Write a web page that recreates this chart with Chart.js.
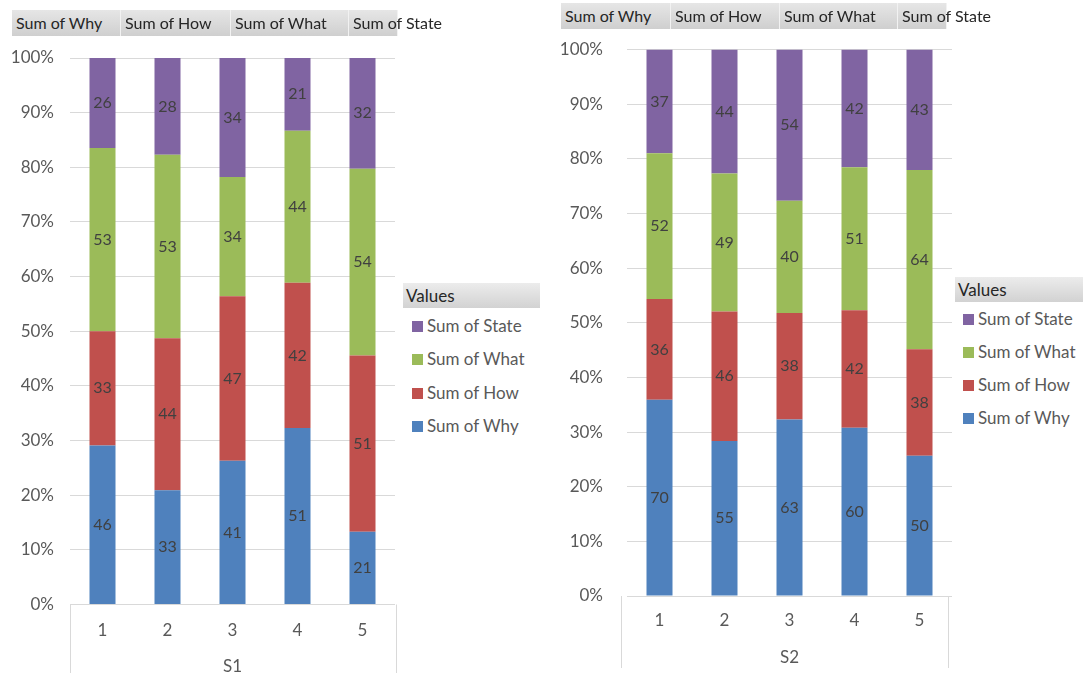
<!DOCTYPE html>
<html>
<head>
<meta charset="utf-8">
<script src="https://cdn.jsdelivr.net/npm/chart.js@4"></script>
<style>
  html, body { margin: 0; padding: 0; background: #fff; overflow: hidden; }
  body { width: 1083px; height: 673px; position: relative; font-family: Lato, "Open Sans", sans-serif; }
  .box { position: absolute; }
  .hdr { position: absolute; height: 26px; line-height: 26px; font-size: 16px; color: #262626;
         background: linear-gradient(#e6e6e6, #cfcfcf); border-right: 1px solid #f2f2f2;
         box-sizing: border-box; padding-left: 4px; white-space: nowrap; overflow: visible; }
  .legTitle { position: absolute; height: 25px; line-height: 25px; font-size: 17px; color: #262626;
              background: linear-gradient(#ececec, #d2d2d2); padding-left: 3px; box-sizing: border-box; }
  .legItem { position: absolute; font-size: 17px; color: #595959; white-space: nowrap; line-height: 20px; }
  .legItem span { display: inline-block; width: 11px; height: 11px; margin-right: 4px; vertical-align: 0px; }
</style>
</head>
<body>
<canvas id="c1" class="box" style="left:0;top:0;width:400px;height:690px"></canvas>
<canvas id="c2" class="box" style="left:540px;top:0;width:420px;height:690px"></canvas>
<div id="ui"></div>

<script>
// categories and series (raw sums)
const categories = ['1', '2', '3', '4', '5'];
const seriesNames = ['Sum of Why', 'Sum of How', 'Sum of What', 'Sum of State'];
const seriesColors = ['#4f81bd', '#c0504d', '#9bbb59', '#8064a2'];

const s1Why   = [46, 33, 41, 51, 21];
const s1How   = [33, 44, 47, 42, 51];
const s1What  = [53, 53, 34, 44, 54];
const s1State = [26, 28, 34, 21, 32];

const s2Why   = [70, 55, 63, 60, 50];
const s2How   = [36, 46, 38, 42, 38];
const s2What  = [52, 49, 40, 51, 64];
const s2State = [37, 44, 54, 42, 43];

const yTicks = [0, 10, 20, 30, 40, 50, 60, 70, 80, 90, 100];

// turn raw sums into 100% stacked shares
function toPercent(series) {
  return series.map(function(s) {
    return s.map(function(v, i) {
      let tot = 0;
      series.forEach(function(o) { tot += o[i]; });
      return v / tot * 100;
    });
  });
}

// draws the raw value in the middle of every segment
const valueLabels = {
  id: 'valueLabels',
  afterDatasetsDraw(chart) {
    const ctx = chart.ctx;
    ctx.save();
    ctx.font = '16px Lato, sans-serif';
    ctx.fillStyle = '#404040';
    ctx.textAlign = 'center';
    ctx.textBaseline = 'middle';
    chart.data.datasets.forEach(function(ds, di) {
      chart.getDatasetMeta(di).data.forEach(function(bar, i) {
        ctx.fillText(ds.raw[i], bar.x, (bar.y + bar.base) / 2);
      });
    });
    ctx.restore();
  }
};

// the open box under the category axis
const axisBox = {
  id: 'axisBox',
  afterDraw(chart, args, opts) {
    const ctx = chart.ctx, a = chart.chartArea;
    ctx.save();
    ctx.strokeStyle = '#d9d9d9';
    ctx.lineWidth = 1;
    ctx.beginPath();
    ctx.moveTo(a.left + opts.dl + 0.5, a.bottom);
    ctx.lineTo(a.left + opts.dl + 0.5, opts.end);
    ctx.moveTo(a.right + opts.dr - 0.5, a.bottom);
    ctx.lineTo(a.right + opts.dr - 0.5, opts.end);
    ctx.stroke();
    ctx.restore();
  }
};

function makeChart(id, title, raw, g) {
  const pct = toPercent(raw);
  return new Chart(document.getElementById(id), {
    type: 'bar',
    data: {
      labels: categories,
      datasets: raw.map(function(r, k) {
        return {
          label: seriesNames[k],
          data: pct[k],
          raw: r,
          backgroundColor: seriesColors[k],
          borderWidth: 0,
          categoryPercentage: 1,
          barPercentage: 0.4
        };
      })
    },
    options: {
      responsive: false,
      animation: false,
      layout: { padding: { top: g.top, right: g.right, left: 0, bottom: 0 } },
      plugins: {
        legend: { display: false },
        tooltip: { enabled: false },
        axisBox: { dl: g.dl, dr: g.dr, end: g.boxEnd }
      },
      scales: {
        x: {
          stacked: true,
          grid: { display: false, drawTicks: false, tickLength: 0 },
          border: { display: false },
          ticks: { color: '#595959', font: { family: 'Lato', size: 17 }, padding: g.xPad },
          title: { display: true, text: title, color: '#595959', font: { family: 'Lato', size: 17 },
                   padding: { top: 0, bottom: g.titlePad } },
          afterFit(scale) { scale.height = g.xHeight; }
        },
        y: {
          stacked: true,
          min: 0, max: 100,
          afterBuildTicks(scale) { scale.ticks = yTicks.map(function(v) { return { value: v }; }); },
          grid: { color: '#d9d9d9', drawTicks: false, tickLength: 0 },
          border: { display: false },
          ticks: { color: '#595959', font: { family: 'Lato', size: 17 }, padding: g.yPad,
                   callback: function(v) { return v + '%'; } },
          afterFit(scale) { scale.width = g.yWidth; }
        }
      }
    },
    plugins: [valueLabels, axisBox]
  });
}

makeChart('c1', 'S1', [s1Why, s1How, s1What, s1State],
  { top: 58, right: 5, yWidth: 70, yPad: 16, xHeight: 85.5, xPad: 16, titlePad: 13, dl: 0, dr: 2, boxEnd: 690 });
makeChart('c2', 'S2', [s2Why, s2How, s2What, s2State],
  { top: 49.5, right: 8, yWidth: 87, yPad: 24, xHeight: 94, xPad: 14, titlePad: 22, dl: -6, dr: -3, boxEnd: 668 });

// field buttons above each chart and the "Values" legend
function addUi(hx, hy, edges, lx, ly, lw, sqx, itemYs) {
  const ui = document.getElementById('ui');
  seriesNames.forEach(function(n, k) {
    const d = document.createElement('div');
    d.className = 'hdr';
    d.style.left = edges[k] + 'px';
    d.style.top = hy + 'px';
    d.style.width = (edges[k + 1] - edges[k]) + 'px';
    d.textContent = n;
    ui.appendChild(d);
  });
  const t = document.createElement('div');
  t.className = 'legTitle';
  t.style.left = lx + 'px'; t.style.top = ly + 'px'; t.style.width = lw + 'px';
  t.textContent = 'Values';
  ui.appendChild(t);
  // legend lists the series top-down in stack order
  for (let k = seriesNames.length - 1, j = 0; k >= 0; k--, j++) {
    const it = document.createElement('div');
    it.className = 'legItem';
    it.style.left = sqx + 'px';
    it.style.top = (itemYs[j] - 10) + 'px';
    it.innerHTML = '<span style="background:' + seriesColors[k] + '"></span>' + seriesNames[k];
    ui.appendChild(it);
  }
}

addUi(0, 10, [12, 121, 231, 349, 398], 403, 283, 137, 412, [326, 359, 393, 426]);
addUi(0, 3, [561, 671, 780, 898, 947], 955, 277, 128, 963, [319, 352, 385, 418]);
</script>
</body>
</html>
